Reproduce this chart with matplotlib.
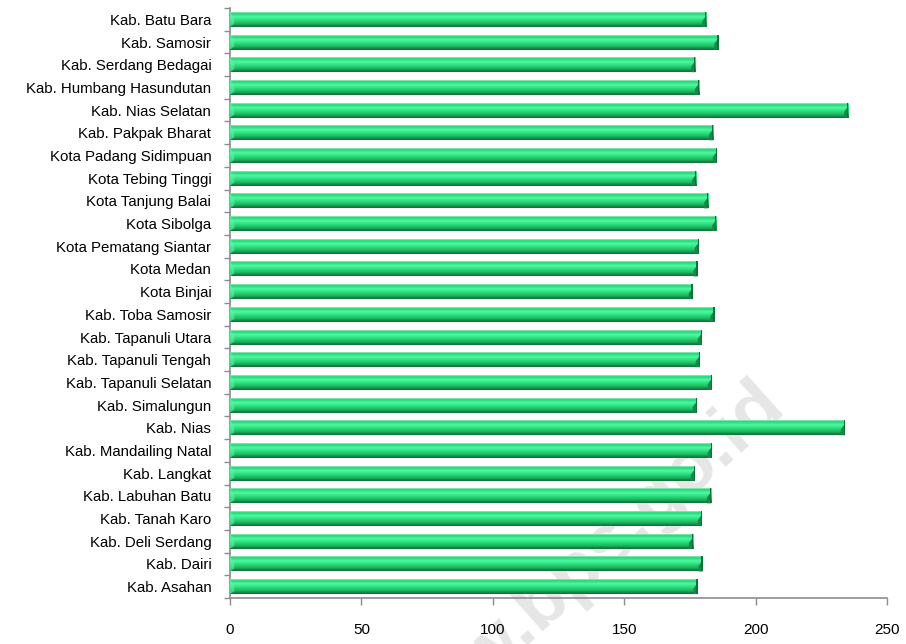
import numpy as np
import matplotlib
matplotlib.use("Agg")
import matplotlib.pyplot as plt
from matplotlib.colors import LinearSegmentedColormap
from matplotlib.patches import Polygon

plt.rcParams['font.family'] = ['Liberation Sans', 'DejaVu Sans']

# Regencies/cities, listed bottom to top
regions = [
    "Kab. Asahan", "Kab. Dairi", "Kab. Deli Serdang", "Kab. Tanah Karo",
    "Kab. Labuhan Batu", "Kab. Langkat", "Kab. Mandailing Natal", "Kab. Nias",
    "Kab. Simalungun", "Kab. Tapanuli Selatan", "Kab. Tapanuli Tengah",
    "Kab. Tapanuli Utara", "Kab. Toba Samosir", "Kota Binjai", "Kota Medan",
    "Kota Pematang Siantar", "Kota Sibolga", "Kota Tanjung Balai",
    "Kota Tebing Tinggi", "Kota Padang Sidimpuan", "Kab. Pakpak Bharat",
    "Kab. Nias Selatan", "Kab. Humbang Hasundutan", "Kab. Serdang Bedagai",
    "Kab. Samosir", "Kab. Batu Bara",
]
values = [
    178.0, 179.9, 176.2, 179.6, 183.1, 176.9, 183.4, 234.0,
    177.7, 183.4, 178.8, 179.6, 184.4, 176.1, 177.9,
    178.4, 185.1, 182.0, 177.4, 185.3, 183.9,
    235.3, 178.5, 177.1, 185.9, 181.3,
]
x_ticks = [0, 50, 100, 150, 200, 250]

fig = plt.figure(figsize=(9.06, 6.44), dpi=100)
ax = fig.add_axes([0.2539, 0.0714, 0.979 - 0.2539, 0.9876 - 0.0714])
ax.patch.set_alpha(0)

# Site watermark, behind the plot
fig.text(0.870, 0.362, "www.bps.go.id", rotation=42, rotation_mode="anchor",
         fontsize=54, fontweight="bold", color="#e6e6e6",
         ha="right", va="baseline", zorder=-1)

# Cylinder-like shading across the bar height (bottom -> top)
shade = LinearSegmentedColormap.from_list("cyl", [
    (0.00, "#0f7038"), (0.10, "#138a45"), (0.22, "#1cb25e"),
    (0.40, "#26d474"), (0.58, "#3cec8e"), (0.70, "#52f7a2"),
    (0.82, "#2fe484"), (0.93, "#25d675"), (1.00, "#b5ecd0"),
])
grad = np.linspace(0, 1, 64).reshape(-1, 1)

h = 0.66
ypos = np.arange(len(regions))
bars = ax.barh(ypos, values, height=h, color="#26d474", edgecolor="none", zorder=2)
for bar, v, y in zip(bars, values, ypos):
    im = ax.imshow(grad, cmap=shade, origin="lower", aspect="auto",
                   extent=[0, v, y - h / 2, y + h / 2], zorder=3,
                   interpolation="bilinear")
    im.set_clip_path(bar)
    # darker bevel at the right end of the bar
    d = 1.6
    ax.add_patch(Polygon([(v, y - h / 2), (v, y + h * 0.28), (v - d, y - h * 0.12),
                          (v - d, y - h / 2)], closed=True,
                         facecolor="#138a45", edgecolor="none", zorder=4))
    ax.add_patch(Polygon([(v - 0.5, y - h / 2), (v, y - h / 2), (v, y + h / 2),
                          (v - 0.5, y + h / 2)], closed=True,
                         facecolor="#0f7038", edgecolor="none", zorder=4))
    # lighter bevel at the left end
    ax.add_patch(Polygon([(0, y - h / 2), (0, y + h / 2), (d, y + h * 0.12),
                          (d, y - h * 0.3)], closed=True,
                         facecolor="#5ef5a8", edgecolor="none", alpha=0.6, zorder=4))

ax.set_xlim(0, 250)
ax.set_ylim(-0.5, len(regions) - 0.5)
ax.set_xticks(x_ticks)
ax.set_xticklabels([str(t) for t in x_ticks])
ax.set_yticks(ypos)
ax.set_yticklabels(regions)
ax.set_yticks(np.arange(-0.5, len(regions), 1.0), minor=True)

for side in ("top", "right"):
    ax.spines[side].set_visible(False)
for side in ("left", "bottom"):
    ax.spines[side].set_color("#8c8c8c")
    ax.spines[side].set_linewidth(1.2)

ax.tick_params(axis="y", which="major", length=0, pad=13.5, labelsize=10.8, labelcolor="#000000")
ax.tick_params(axis="y", which="minor", length=4, width=1.0, color="#8c8c8c", direction="out")
ax.tick_params(axis="x", which="major", length=5, width=1.0, color="#8c8c8c",
               direction="out", pad=13, labelsize=11, labelcolor="#000000")

fig.savefig("out.png", dpi=100)
